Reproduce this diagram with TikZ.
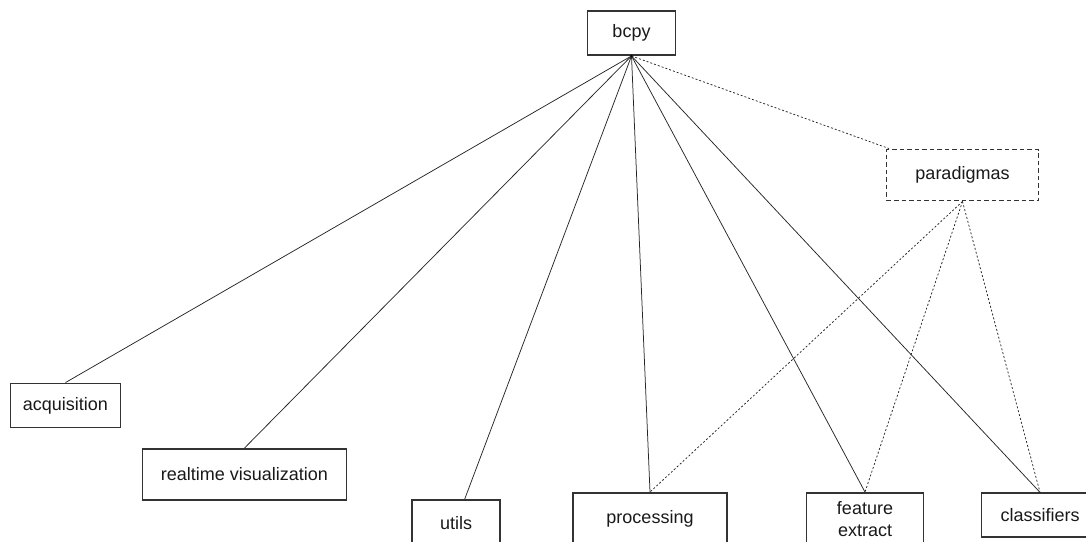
\documentclass[tikz,border=0pt]{standalone}
\usepackage{fontspec}
\setmainfont{Liberation Sans}
\begin{document}
\begin{tikzpicture}[x=1pt,y=-1pt,
  box/.style={draw=black!80,line width=1.9pt,inner sep=0pt,align=center,
    font=\fontsize{18}{22}\selectfont,text=black!90},
  optbox/.style={box,dash pattern=on 4.5pt off 3pt},
  link/.style={draw=black!85,line width=0.75pt},
  optlink/.style={draw=black!85,line width=0.75pt,dash pattern=on 2pt off 2pt}]
\useasboundingbox (0,0) rectangle (1086,541);
\clip (0,0) rectangle (1086,541);

% package root and its modules
\node[box,minimum width=88pt,minimum height=44pt] (bcpy) at (631.5,33) {bcpy};
\node[optbox,minimum width=152pt,minimum height=51pt] (para) at (962.5,175) {paradigmas};
\node[box,minimum width=110pt,minimum height=44pt] (acq) at (65.5,405.5) {acquisition};
\node[box,minimum width=204pt,minimum height=51pt] (rtv) at (244.5,474.5) {realtime visualization};
\node[box,minimum width=88pt,minimum height=46pt] (utils) at (456,523) {utils};
\node[box,minimum width=154pt,minimum height=52pt] (proc) at (650,519) {processing};
\node[box,minimum width=117pt,minimum height=52pt] (feat) at (865,519) {feature\\extract};
\node[box,minimum width=117pt,minimum height=44pt] (clf) at (1040,515.3) {classifiers};

% direct submodules
\foreach \m in {acq.north,rtv.north,utils.70,proc.north,feat.north,clf.north}
  \draw[link] (bcpy.south) -- (\m);
\fill[black] (bcpy.south) circle (1.3pt);

% optional paradigms module and what it builds on
\draw[optlink] (bcpy.south) -- (para);
\foreach \m in {proc,feat,clf}
  \draw[optlink] (para.south) -- (\m.north);
\end{tikzpicture}
\end{document}
